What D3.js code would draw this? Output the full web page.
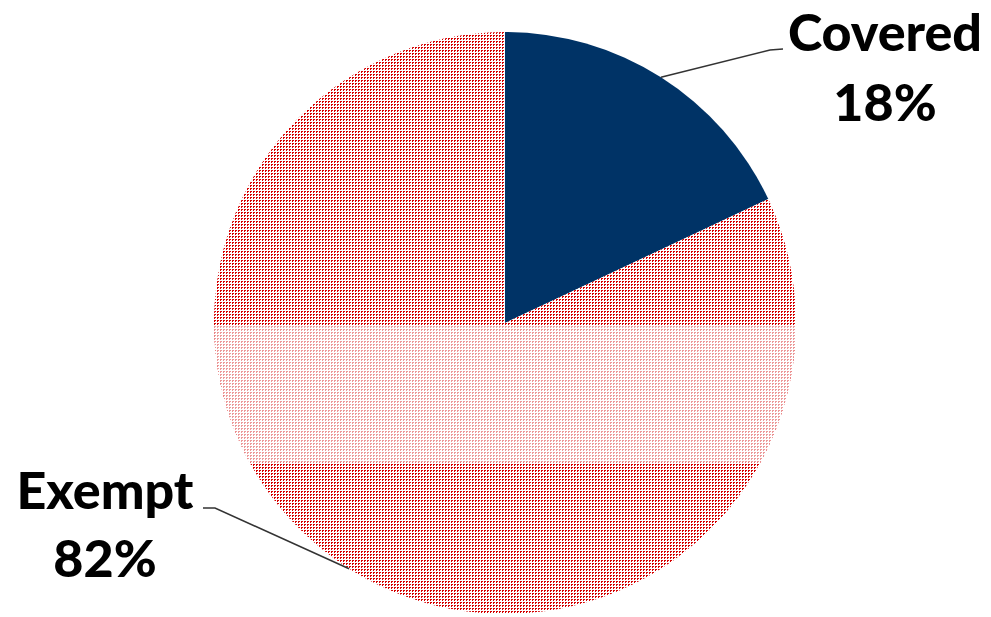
<!DOCTYPE html>
<html>
<head>
<meta charset="utf-8">
<script src="https://cdn.jsdelivr.net/npm/d3@7"></script>
<style>
  body { margin: 0; background: #fff; }
  text { font-family: Lato, "Open Sans", sans-serif; font-weight: 900; fill: #000; }
</style>
</head>
<body>
<div id="chart"></div>
<script>
// chart data
let categories = ["Covered", "Exempt"];
let values = [18, 82];
let pctLabels = ["18%", "82%"];

let width = 991, height = 617;
let cx = 505, cy = 323, radius = 291;

let svg = d3.select("#chart").append("svg")
    .attr("width", width)
    .attr("height", height);

// dotted red fill of the exempt slice
let defs = svg.append("defs");
function dotPattern(id, color) {
    let p = defs.append("pattern")
        .attr("id", id)
        .attr("patternUnits", "userSpaceOnUse")
        .attr("width", 3).attr("height", 3);
    p.append("rect").attr("width", 3).attr("height", 3).attr("fill", "#fff");
    p.append("rect").attr("width", 1).attr("height", 2).attr("fill", color);
    p.append("rect").attr("x", 1).attr("y", 0).attr("width", 1).attr("height", 1).attr("fill", color);
}
dotPattern("dots", "#d40000");
dotPattern("dotsLight", "#ec9a9a");

// lighter band of the pattern just below the centre
defs.append("clipPath").attr("id", "band")
    .append("rect")
    .attr("x", -radius).attr("y", 3)
    .attr("width", radius * 2).attr("height", radius * 0.47);

let g = svg.append("g")
    .attr("transform", "translate(" + cx + "," + cy + ")");

let pie = d3.pie().sort(null).value(function (d) { return d; });
let arcs = pie(values);

let arc = d3.arc().innerRadius(0).outerRadius(radius);
let fills = ["#003366", "url(#dots)"];

g.selectAll("path.slice")
    .data(arcs)
    .enter().append("path")
    .attr("class", "slice")
    .attr("d", arc)
    .attr("fill", function (d, i) { return fills[i]; });

g.append("path")
    .datum(arcs[1])
    .attr("d", arc)
    .attr("fill", "url(#dotsLight)")
    .attr("clip-path", "url(#band)");

// leader lines and labels
let outer = d3.arc().innerRadius(radius).outerRadius(radius);
let labelPos = [
    {elbow: [265, -273], end: [278, -274], tx: 380, ty: -272, py: -202},
    {elbow: [-290, 185], end: [-302, 185], tx: -400, ty: 186, py: 254}
];

arcs.forEach(function (d, i) {
    let p = outer.centroid(d);
    let lp = labelPos[i];
    g.append("polyline")
        .attr("points", [p, lp.elbow, lp.end].map(function (q) { return q.join(","); }).join(" "))
        .attr("fill", "none")
        .attr("stroke", "#333")
        .attr("stroke-width", 1.5);

    g.append("text")
        .attr("x", lp.tx).attr("y", lp.ty)
        .attr("text-anchor", "middle")
        .attr("font-size", 52)
        .text(categories[i]);

    g.append("text")
        .attr("x", lp.tx).attr("y", lp.py)
        .attr("text-anchor", "middle")
        .attr("font-size", 52)
        .text(pctLabels[i]);
});
</script>
</body>
</html>
